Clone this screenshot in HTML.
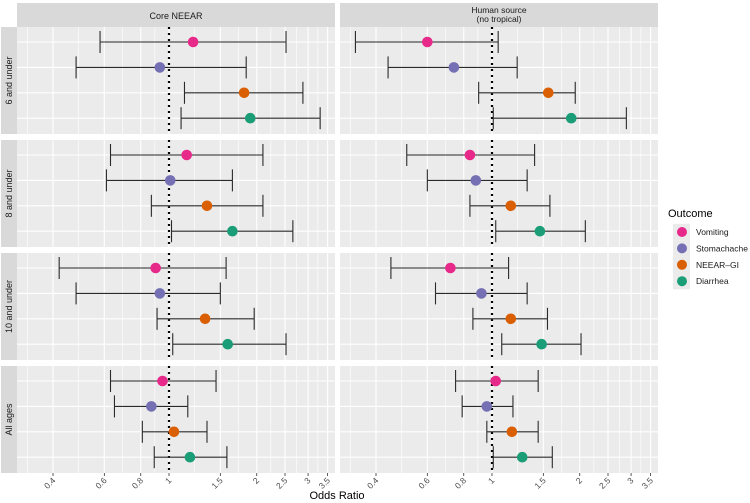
<!DOCTYPE html>
<html><head><meta charset="utf-8"><style>
body{margin:0;background:#fff;}
svg{display:block;font-family:"Liberation Sans",sans-serif;}
</style></head><body>
<svg id="chart" width="750" height="503"></svg>
<script>
const facetsX = ["Core NEEAR", "Human source|(no tropical)"];
const facetsY = ["6 and under", "8 and under", "10 and under", "All ages"];
const outcomes = ["Vomiting", "Stomachache", "NEEAR\u2013GI", "Diarrhea"];
const colors = ["#E7298A", "#7570B3", "#D95F02", "#1B9E77"];
const tickValues = [0.4, 0.6, 0.8, 1, 1.5, 2, 2.5, 3, 3.5];
const tickLabels = ["0.4", "0.6", "0.8", "1", "1.5", "2", "2.5", "3", "3.5"];
// [col][row][outcome]
const orEst = [
 [[1.21,0.93,1.81,1.90],[1.15,1.01,1.35,1.65],[0.90,0.93,1.33,1.59],[0.95,0.87,1.04,1.18]],
 [[0.60,0.74,1.56,1.87],[0.84,0.88,1.16,1.46],[0.72,0.92,1.16,1.48],[1.03,0.96,1.17,1.27]]
];
const orLow = [
 [[0.58,0.48,1.13,1.10],[0.63,0.61,0.87,1.02],[0.42,0.48,0.91,1.03],[0.63,0.65,0.81,0.89]],
 [[0.34,0.44,0.90,1.01],[0.51,0.60,0.84,1.03],[0.45,0.64,0.86,1.08],[0.75,0.79,0.96,1.01]]
];
const orHigh = [
 [[2.52,1.84,2.88,3.30],[2.10,1.65,2.10,2.66],[1.57,1.50,1.96,2.52],[1.45,1.16,1.35,1.58]],
 [[1.05,1.22,1.93,2.89],[1.40,1.32,1.58,2.09],[1.14,1.32,1.55,2.02],[1.44,1.18,1.44,1.61]]
];

const NS="http://www.w3.org/2000/svg";
const svg=document.getElementById('chart');
function mk(tag,attrs,parent){const e=document.createElementNS(NS,tag);for(const k in attrs)e.setAttribute(k,attrs[k]);(parent||svg).appendChild(e);return e;}
const panelLeft=[17,340], panelW=318;
const panelTop=[27,140,253,366], panelH=107;
const pxPerLog=126.6, oneOffset=152;
function xScale(col,v){return panelLeft[col]+oneOffset+Math.log(v)*pxPerLog;}
function yScale(row,i){return panelTop[row]+15+i*25.4;}

const logs=tickValues.map(Math.log);
const minors=[];
for(let i=0;i<logs.length-1;i++)minors.push((logs[i]+logs[i+1])/2);
minors.push(logs[0]-(logs[1]-logs[0])/2);

for(let c=0;c<2;c++){
  const s=mk('rect',{x:panelLeft[c],y:3,width:panelW,height:24,fill:'#D9D9D9'});
  
  
  const lines=facetsX[c].split('|');
  lines.forEach((ln,k)=>{
    const t=mk('text',{x:panelLeft[c]+panelW/2,y:lines.length==1?19:13+k*9,'text-anchor':'middle','font-size':lines.length==1?9:8.5,fill:'#1A1A1A'});
    t.textContent=ln;
    
    
  });
  for(let r=0;r<4;r++){
    const p=mk('rect',{x:panelLeft[c],y:panelTop[r],width:panelW,height:panelH,fill:'#EBEBEB'});
    
    
    minors.forEach(m=>{const x=panelLeft[c]+oneOffset+m*pxPerLog; if(x>panelLeft[c]&&x<panelLeft[c]+panelW) mk('line',{x1:x,x2:x,y1:panelTop[r],y2:panelTop[r]+panelH,stroke:'#fff','stroke-width':0.6});});
    tickValues.forEach(v=>{const x=xScale(c,v);mk('line',{x1:x,x2:x,y1:panelTop[r],y2:panelTop[r]+panelH,stroke:'#fff','stroke-width':1.1});});
    for(let i=0;i<4;i++){const y=yScale(r,i);mk('line',{x1:panelLeft[c],x2:panelLeft[c]+panelW,y1:y,y2:y,stroke:'#fff','stroke-width':1.1});}
    const ref=mk('line',{x1:xScale(c,1),x2:xScale(c,1),y1:panelTop[r],y2:panelTop[r]+panelH,stroke:'#000','stroke-width':2.2,'stroke-dasharray':'2 4'});
    
    
    for(let i=0;i<4;i++){
      const y=yScale(r,i), x1=xScale(c,orLow[c][r][i]), x2=xScale(c,orHigh[c][r][i]);
      const g=mk('g',{});
      
      
      mk('line',{x1:x1,x2:x2,y1:y,y2:y,stroke:'#2a2a2a','stroke-width':1.1},g);
      mk('line',{x1:x1,x2:x1,y1:y-11,y2:y+11,stroke:'#2a2a2a','stroke-width':1.1},g);
      mk('line',{x1:x2,x2:x2,y1:y-11,y2:y+11,stroke:'#2a2a2a','stroke-width':1.1},g);
      const pt=mk('circle',{cx:xScale(c,orEst[c][r][i]),cy:y,r:5.3,fill:colors[i]});
      
      
    }
  }
  tickValues.forEach((v,k)=>{
    const x=xScale(c,v);
    mk('line',{x1:x,x2:x,y1:473,y2:476,stroke:'#333','stroke-width':0.8});
    const t=mk('text',{x:0,y:0,'text-anchor':'end','font-size':8.5,fill:'#4D4D4D',transform:`translate(${x+3},${481}) rotate(-45)`});
    t.textContent=tickLabels[k];
    
    
  });
}
for(let r=0;r<4;r++){
  const s=mk('rect',{x:1,y:panelTop[r],width:16,height:panelH,fill:'#D9D9D9'});
  
  
  const cy=panelTop[r]+panelH/2;
  const t=mk('text',{x:0,y:0,'text-anchor':'middle','font-size':9,fill:'#1A1A1A',transform:`translate(12,${cy}) rotate(-90)`});
  t.textContent=facetsY[r];
  
  
}
const xt=mk('text',{x:337,y:499,'text-anchor':'middle','font-size':11,fill:'#000'});
xt.textContent='Odds Ratio';



const lt=mk('text',{x:668,y:217,'font-size':11,fill:'#000'});
lt.textContent='Outcome';


outcomes.forEach((o,i)=>{
  const y=232+i*16.4;
  const g=mk('g',{});
  
  
  mk('rect',{x:673,y:y-8.2,width:17,height:16.4,fill:'#EBEBEB'},g);
  mk('circle',{cx:682,cy:y,r:5,fill:colors[i]},g);
  const t=mk('text',{x:696,y:y+3,'font-size':8.5,fill:'#1A1A1A'},g);
  t.textContent=o;
});
</script>
</body></html>
